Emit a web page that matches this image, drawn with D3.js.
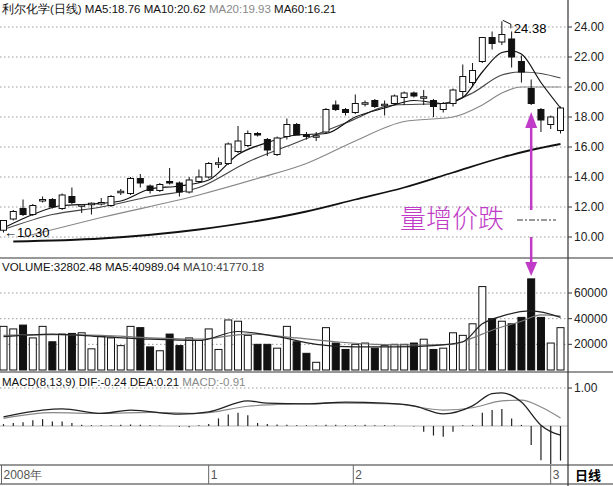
<!DOCTYPE html>
<html><head><meta charset="utf-8">
<script src="https://cdn.jsdelivr.net/npm/d3@7"></script>
<style>body{margin:0;background:#fff}svg{font-family:"Liberation Sans",Arial,sans-serif}</style>
</head><body><svg id="c" width="613" height="486"></svg>
<script>
// K线数据 [open, high, low, close]
var kline = [
  [10.45,11.1,10.3,11.1],[11.2,11.8,11.1,11.7],[11.9,12.5,11.4,11.5],[11.5,12.2,11.4,12.1],[12.45,12.7,12.3,12.5],
  [12.5,12.6,11.9,12.0],[11.9,12.9,11.8,12.8],[12.7,13.3,12.2,12.3],[12.1,12.2,11.6,12.15],[12.2,12.3,11.5,12.25],
  [12.25,12.6,12.1,12.3],[12.1,12.8,12.0,12.7],[12.95,13.2,12.8,13.05],[12.9,14.0,12.8,13.9],[13.9,14.2,13.3,13.6],
  [13.4,13.5,12.9,13.1],[13.1,13.6,13.0,13.5],[13.7,14.6,13.5,13.6],[13.6,13.7,12.7,13.0],[13.0,14.0,12.9,13.8],
  [13.7,14.5,13.6,14.0],[14.0,15.0,13.9,14.9],[14.85,15.3,14.6,14.95],[14.9,16.3,14.8,16.2],[15.7,17.4,15.6,16.4],
  [16.1,17.1,16.0,16.9],[16.9,17.0,16.7,16.8],[16.5,16.6,15.4,15.8],[15.5,16.7,15.4,16.6],[16.7,17.9,16.5,17.5],
  [17.5,17.6,16.8,16.8],[16.8,17.0,16.5,16.7],[16.65,17.0,16.4,16.75],[17.0,18.6,16.9,18.5],[18.8,19.1,18.4,18.5],
  [18.5,18.6,18.1,18.3],[18.3,19.5,18.2,18.9],[18.85,19.1,18.7,18.95],[19.1,19.2,18.6,18.7],[18.8,19.1,18.1,18.85],
  [18.9,19.5,18.8,19.4],[19.3,19.7,18.8,19.6],[19.6,19.7,19.3,19.4],[19.25,19.8,18.8,19.35],[19.1,19.2,18.0,18.7],
  [18.5,19.0,18.3,18.9],[18.9,19.9,18.7,19.8],[19.7,21.5,19.3,20.7],[20.3,21.6,20.0,21.1],[21.7,23.3,21.6,23.3],
  [23.3,23.7,22.5,22.9],[23.0,24.38,22.8,23.5],[23.2,23.7,21.3,22.0],[21.7,22.1,20.3,21.0],[19.9,20.5,18.8,18.9],
  [18.5,18.6,17.0,17.8],[17.5,18.1,17.2,18.0],[17.1,18.7,16.9,18.6]
];
var volume = [34000,32000,35000,25000,34000,22000,28000,28500,29000,16500,26000,25000,19000,34000,33000,18000,15000,28000,
  19000,25000,23000,32000,16000,39000,38000,27000,20000,20000,17000,34000,22000,13000,6000,33000,21000,16000,20000,21000,
  17000,19000,20000,20000,21000,24000,16000,17000,29000,27000,36000,65000,40000,38000,36000,41000,71000,41000,21000,33000];
// 均线读数 [bar, value]
var ma5 = [[0,10.6],[3,11.5],[6,12.1],[9,12.2],[12,12.4],[15,13.2],[18,13.4],[21,13.8],[24,15.5],[27,16.3],[30,16.8],[33,16.9],
  [36,18.0],[39,18.6],[42,19.1],[45,18.9],[47,19.3],[49,21.0],[51,22.3],[52,22.4],[53,22.2],[55,20.3],[57,18.6]];
var ma10 = [[0,10.5],[5,11.5],[10,12.0],[15,12.7],[20,13.3],[25,15.0],[30,16.3],[35,17.6],[40,18.8],[45,18.9],[48,19.6],
  [51,20.8],[53,21.0],[55,20.9],[57,20.6]];
var ma20 = [[2,10.0],[10,11.3],[20,12.8],[26,13.9],[31,14.9],[36,16.4],[41,17.7],[46,18.0],[49,18.8],[51,19.6],[53,20.0],[57,20.0]];
var ma60 = [[1,9.7],[10,9.9],[20,10.5],[31,11.7],[36,12.5],[41,13.3],[46,14.3],[51,15.3],[54,15.8],[57,16.2]];
var volMa5 = [[0,26000],[5,28000],[10,26000],[15,24000],[20,23000],[24,30000],[28,26000],[32,20000],[36,18000],[40,18000],
  [44,19000],[47,22000],[49,36000],[51,42000],[54,46000],[57,41000]];
var volMa10 = [[0,27000],[5,27500],[10,27000],[15,25000],[20,24000],[25,28000],[30,25000],[34,22000],[38,20000],[42,19500],
  [46,20000],[48,25000],[50,31000],[53,38000],[55,43000],[57,42000]];
var dif = [[0,0.24],[4,0.42],[6,0.45],[10,0.33],[13,0.42],[18,0.31],[21,0.37],[25,0.66],[27,0.6],[31,0.58],[35,0.63],
  [39,0.6],[42,0.53],[45,0.32],[48,0.53],[50,0.85],[51,0.87],[53,0.63],[55,0.02],[56,-0.15],[57,-0.24]];
var dea = [[0,0.2],[5,0.35],[10,0.33],[15,0.36],[20,0.33],[25,0.52],[30,0.58],[35,0.6],[40,0.58],[45,0.42],[48,0.48],
  [51,0.66],[53,0.68],[55,0.5],[57,0.21]];
var macdHist = [0.05,0.08,0.1,0.15,0.18,0.12,0.12,0.08,0.03,0.02,0.02,0.02,0.03,0.04,0.03,0.02,0.01,0,-0.02,-0.03,0.02,0.05,
  0.2,0.3,0.35,0.28,0.08,0.05,0.04,0.03,0.02,0.02,0.02,0.03,0.03,0.02,0.02,0.03,0.02,0.02,0.01,0,-0.01,-0.15,-0.25,-0.28,
  -0.15,0.02,0.03,0.35,0.42,0.45,0.2,0.03,-0.5,-0.9,-1.0,-0.91];
var priceTicks = [10,12,14,16,18,20,22,24];
var volTicks = [20000,40000,60000];
var months = [[0,"2008年"],[21.2,"1"],[36,"2"],[56.2,"3"]];

var svg = d3.select("#c");
var W = 568;
var x = d3.scaleLinear().domain([0,57]).range([3.5,560.5]);
var yP = d3.scaleLinear().domain([10,24]).range([237,27]);
var yV = d3.scaleLinear().domain([0,60000]).range([370,293]);
var yM = d3.scaleLinear().domain([0,1]).range([426,388]);
var bw = 6;

function grid(ticks, y, fmt, sc) {
  ticks.forEach(function (t) {
    svg.append("line").attr("x1",0).attr("x2",W).attr("y1",y(t)).attr("y2",y(t))
      .attr("stroke","#999").attr("stroke-dasharray","1.5,2.5");
    svg.append("line").attr("x1",W).attr("x2",W+4).attr("y1",y(t)).attr("y2",y(t)).attr("stroke","#333");
    svg.append("text").attr("x",W+6).attr("y",y(t)+4).attr("font-size",12).attr("fill","#222").text(fmt(t));
  });
}
grid(priceTicks, yP, d3.format(".2f"));
grid(volTicks, yV, String);
grid([1], yM, d3.format(".2f"));

function line(data, y, color, w) {
  svg.append("path").datum(data).attr("fill","none").attr("stroke",color).attr("stroke-width",w)
    .attr("d", d3.line().curve(d3.curveMonotoneX).x(function (d) { return x(d[0]); }).y(function (d) { return y(d[1]); }));
}
line(ma60, yP, "#111", 1.8);
line(ma20, yP, "#888", 1.2);
line(ma10, yP, "#444", 1.2);
line(ma5, yP, "#111", 1.2);

// K线
kline.forEach(function (k, i) {
  var up = k[3] >= k[0];
  var g = svg.append("g");
  g.append("line").attr("x1",x(i)).attr("x2",x(i)).attr("y1",yP(k[1])).attr("y2",yP(k[2])).attr("stroke","#111");
  var top = yP(Math.max(k[0],k[3])), h = Math.max(1.5, Math.abs(yP(k[0]) - yP(k[3])));
  g.append("rect").attr("x",x(i)-bw/2).attr("y",top).attr("width",bw).attr("height",h)
    .attr("fill", up ? "#fff" : "#111").attr("stroke","#111");
});

// 成交量
volume.forEach(function (v, i) {
  var up = kline[i][3] >= kline[i][0];
  svg.append("rect").attr("x",x(i)-3.5).attr("y",yV(v)).attr("width",7).attr("height",yV(0)-yV(v))
    .attr("fill", up ? "#fff" : "#111").attr("stroke","#111");
});
line(volMa10, yV, "#777", 1.2);
line(volMa5, yV, "#222", 1.2);

// MACD
svg.append("line").attr("x1",0).attr("x2",W).attr("y1",yM(0)).attr("y2",yM(0)).attr("stroke","#888").attr("stroke-width",0.6);
macdHist.forEach(function (m, i) {
  svg.append("line").attr("x1",x(i)).attr("x2",x(i)).attr("y1",yM(0)).attr("y2",yM(m)).attr("stroke","#222").attr("stroke-width",1.2);
});
line(dea, yM, "#888", 1.2);
line(dif, yM, "#222", 1.3);

// 框线
[[0,258,613,258],[0,372,613,372],[0,465,613,465],[0,484,613,484],[W,0,W,486]].forEach(function (l) {
  svg.append("line").attr("x1",l[0]).attr("y1",l[1]).attr("x2",l[2]).attr("y2",l[3]).attr("stroke","#333").attr("stroke-width",1.2);
});
months.forEach(function (m) {
  var xx = x(m[0]) - 2;
  svg.append("line").attr("x1",xx).attr("x2",xx).attr("y1",465).attr("y2",484).attr("stroke","#666");
  svg.append("text").attr("x",xx+2).attr("y",479).attr("font-size",12).attr("fill","#555").text(m[1]);
});
svg.append("text").attr("x",575).attr("y",480).attr("font-size",13).attr("font-weight","bold")
  .attr("font-family","Noto Sans CJK SC").text("日线");

// 标题
function header(y, parts) {
  var t = svg.append("text").attr("x",2).attr("y",y).attr("font-size",11.5);
  parts.forEach(function (p) { t.append("tspan").attr("fill",p[1]).text(p[0]); });
}
header(13, [["利尔化学(日线) MA5:18.76 ","#111"],["MA10:20.62 ","#111"],["MA20:19.93 ","#888"],["MA60:16.21","#111"]]);
header(271, [["VOLUME:32802.48 MA5:40989.04 ","#111"],["MA10:41770.18","#444"]]);
header(386, [["MACD(8,13,9) DIF:-0.24 DEA:0.21 ","#111"],["MACD:-0.91","#888"]]);

// 标注
svg.append("path").attr("d","M"+(x(51)+1)+","+(yP(24.38)-1)+" l8,4 l0,4").attr("fill","none").attr("stroke","#111");
svg.append("text").attr("x",x(51)+12).attr("y",yP(24.38)+12).attr("font-size",13).text("24.38");
svg.append("text").attr("x",4).attr("y",yP(10.3)+4).attr("font-size",13).text("←10.30");

var mag = "#c03cc8";
svg.append("line").attr("x1",x(54)).attr("x2",x(54)).attr("y1",232).attr("y2",124).attr("stroke",mag).attr("stroke-width",2.5);
svg.append("path").attr("d","M"+(x(54)-6)+",128 L"+x(54)+",112 L"+(x(54)+6)+",128Z").attr("fill",mag);
svg.append("line").attr("x1",x(54)).attr("x2",x(54)).attr("y1",237).attr("y2",266).attr("stroke",mag).attr("stroke-width",2.5);
svg.append("path").attr("d","M"+(x(54)-6)+",262 L"+x(54)+",276 L"+(x(54)+6)+",262Z").attr("fill",mag);
svg.append("rect").attr("x",515).attr("y",210).attr("width",50).attr("height",22).attr("fill","#fff");
svg.append("line").attr("x1",517).attr("x2",556).attr("y1",220).attr("y2",220).attr("stroke","#333").attr("stroke-dasharray","6,2,2,2");
svg.append("text").attr("x",400).attr("y",228).attr("font-size",26).attr("fill",mag)
  .attr("font-family","Noto Sans CJK SC").attr("font-weight",300).text("量增价跌");
</script></body></html>
